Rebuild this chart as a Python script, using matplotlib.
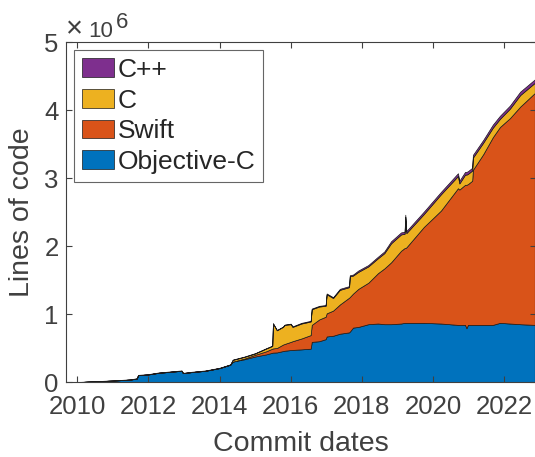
import matplotlib
matplotlib.use("Agg")
import matplotlib.pyplot as plt
import numpy as np

plt.rcParams['font.family'] = ['Liberation Sans', 'DejaVu Sans']

# decimal-year commit dates
dates = [2010.09, 2010.48, 2010.97, 2011.48, 2011.67, 2011.71, 2011.98, 2012.28,
         2012.93, 2012.97, 2013.20, 2013.60, 2014.00, 2014.30, 2014.37, 2014.70,
         2015.00, 2015.30, 2015.48, 2015.50, 2015.61, 2015.78, 2015.83, 2016.00,
         2016.05, 2016.30, 2016.56, 2016.59, 2016.80, 2016.98, 2017.01, 2017.19,
         2017.38, 2017.64, 2017.66, 2017.75, 2017.90, 2018.18, 2018.45, 2018.63,
         2018.82, 2019.10, 2019.20, 2019.22, 2019.25, 2019.74, 2020.22, 2020.70,
         2020.74, 2020.90, 2020.94, 2020.98, 2021.10, 2021.12, 2021.41, 2021.68,
         2021.88, 2022.16, 2022.45, 2022.86]

# lines of code (millions)
objc = [0.000, 0.010, 0.020, 0.035, 0.050, 0.100, 0.110, 0.135,
        0.165, 0.130, 0.145, 0.165, 0.205, 0.255, 0.300, 0.335,
        0.375, 0.405, 0.430, 0.432, 0.435, 0.455, 0.460, 0.470,
        0.472, 0.480, 0.490, 0.590, 0.600, 0.630, 0.670, 0.680,
        0.710, 0.730, 0.740, 0.800, 0.810, 0.850, 0.860, 0.850,
        0.850, 0.860, 0.870, 0.870, 0.870, 0.870, 0.860, 0.840,
        0.840, 0.840, 0.790, 0.840, 0.840, 0.840, 0.840, 0.840,
        0.870, 0.860, 0.850, 0.840]
swift = [0, 0, 0, 0, 0, 0, 0, 0,
         0, 0, 0, 0, 0, 0, 0, 0.010,
         0.025, 0.045, 0.060, 0.062, 0.065, 0.095, 0.100, 0.120,
         0.128, 0.160, 0.200, 0.250, 0.320, 0.330, 0.340, 0.370,
         0.430, 0.510, 0.510, 0.500, 0.560, 0.610, 0.740, 0.820,
         0.910, 1.070, 1.100, 1.100, 1.110, 1.410, 1.660, 2.010,
         1.990, 2.060, 2.110, 2.070, 2.120, 2.280, 2.510, 2.760,
         2.880, 3.020, 3.200, 3.410]
c_lang = [0, 0, 0, 0, 0, 0, 0, 0,
          0, 0, 0, 0, 0, 0, 0.025, 0.025,
          0.020, 0.040, 0.040, 0.366, 0.260, 0.260, 0.280, 0.260,
          0.210, 0.220, 0.200, 0.230, 0.190, 0.160, 0.280, 0.185,
          0.215, 0.155, 0.305, 0.265, 0.250, 0.240, 0.220, 0.225,
          0.280, 0.240, 0.210, 0.460, 0.210, 0.190, 0.240, 0.180,
          0.090, 0.150, 0.150, 0.150, 0.150, 0.180, 0.170, 0.140,
          0.120, 0.140, 0.170, 0.150]
cpp = [0.002, 0.002, 0.003, 0.004, 0.005, 0.005, 0.005, 0.005,
       0.005, 0.005, 0.005, 0.005, 0.005, 0.005, 0.005, 0.005,
       0.005, 0.005, 0.005, 0.005, 0.005, 0.005, 0.005, 0.008,
       0.008, 0.010, 0.010, 0.010, 0.010, 0.012, 0.012, 0.012,
       0.015, 0.015, 0.015, 0.015, 0.020, 0.020, 0.022, 0.025,
       0.030, 0.030, 0.030, 0.030, 0.030, 0.035, 0.035, 0.040,
       0.040, 0.040, 0.040, 0.040, 0.040, 0.040, 0.040, 0.045,
       0.045, 0.045, 0.050, 0.050]

labels = ['Objective-C', 'Swift', 'C', 'C++']
colors = ['#0072BD', '#D95319', '#EDB120', '#7E2F8E']
xticks = [2010, 2012, 2014, 2016, 2018, 2020, 2022]
yticks = [0, 1, 2, 3, 4, 5]

txt = '#404040'
W, H = 535, 457
fig = plt.figure(figsize=(W / 100, H / 100), dpi=100)
ax = fig.add_axes([65.7 / W, 1 - 382 / H, (535.5 - 65.7) / W, 340 / H])

ax.stackplot(dates, objc, swift, c_lang, cpp, colors=colors, labels=labels,
             edgecolor='#1a1a1a', linewidth=0.5)

ax.set_xlim(2009.674, 2022.88)
ax.set_ylim(0, 5)
ax.set_xticks(xticks)
ax.set_yticks(yticks)
ax.tick_params(direction='in', length=4, width=0.8, colors=txt, labelsize=18.5,
               top=True, right=True)
ax.tick_params(axis='x', pad=9)
ax.tick_params(axis='y', pad=5)
for s in ax.spines.values():
    s.set_color(txt)
    s.set_linewidth(0.8)

# exponent label (MATLAB style)
fig.text(66 / W, 1 - 37 / H, '\u00d7', fontsize=21, color=txt,
         ha='left', va='baseline')
fig.text(88 / W, 1 - 37 / H, '10', fontsize=16, color=txt,
         ha='left', va='baseline')
fig.text(116 / W, 1 - 28 / H, '6', fontsize=16, color=txt,
         ha='left', va='baseline')

ax.set_xlabel('Commit dates', fontsize=20.5, color=txt, labelpad=9)
ax.set_ylabel('Lines of code', fontsize=20.5, color=txt, labelpad=7)

handles, labs = ax.get_legend_handles_labels()
leg = ax.legend(handles[::-1], labs[::-1], loc='upper left',
                bbox_to_anchor=(0.018, 0.976), borderaxespad=0,
                fontsize=19, frameon=True, fancybox=False,
                handlelength=1.2, handleheight=0.72, handletextpad=0.15,
                labelspacing=0.25, borderpad=0.3)
leg.get_frame().set_edgecolor(txt)
leg.get_frame().set_linewidth(0.8)
for t in leg.get_texts():
    t.set_color('#262626')

fig.savefig('out.png', dpi=100)
